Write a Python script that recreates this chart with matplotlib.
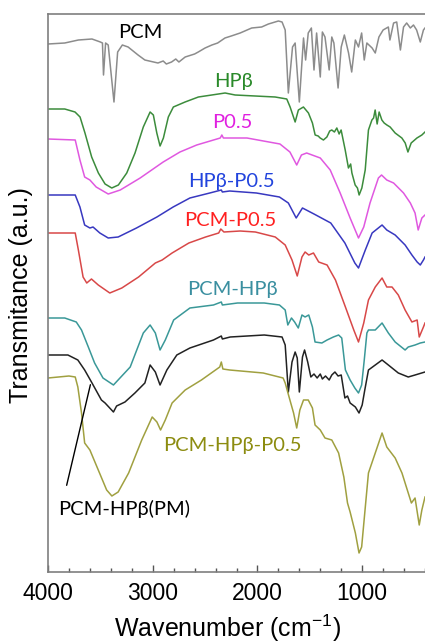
import matplotlib
matplotlib.use("Agg")
import matplotlib.pyplot as plt
from matplotlib.ticker import MultipleLocator, FixedLocator

plt.rcParams['mathtext.fontset'] = 'custom'
plt.rcParams['mathtext.rm'] = 'Liberation Sans'
plt.rcParams['mathtext.it'] = 'Liberation Sans'

# ---------------- data (wavenumber cm-1, transmittance a.u. with offsets) -------------
pcm_wn = [4000, 3840, 3710, 3580, 3500, 3480, 3470, 3450, 3425, 3370, 3335, 3290, 3235, 3140,
          3075, 2950, 2900, 2870, 2820, 2780, 2750, 2690, 2600, 2565, 2500, 2435, 2380, 2310,
          2250, 2165, 2055, 1960, 1895, 1800, 1765, 1735, 1705, 1665, 1640, 1600, 1560, 1540,
          1515, 1485, 1460, 1435, 1400, 1380, 1355, 1315, 1290, 1270, 1230, 1200, 1170, 1130,
          1100, 1065, 1035, 1005, 980, 955, 905, 875, 840, 800, 750, 735, 700, 670, 635, 605,
          575, 540, 510, 480, 445, 415, 400]
pcm_t = [528, 529, 532, 533, 530, 529, 497, 529, 527, 470, 520, 527, 525, 517,
         512, 509, 511, 508, 510, 513, 510, 515, 518, 520, 524, 527, 529, 534,
         536, 539, 544, 545, 548, 551, 550, 542, 479, 525, 529, 470, 534, 512,
         539, 544, 502, 539, 495, 540, 535, 502, 535, 529, 484, 525, 537, 519,
         500, 532, 525, 539, 512, 529, 524, 519, 535, 542, 545, 532, 549, 550, 522, 545,
         549, 544, 547, 542, 530, 542, 544]

hpb_wn = [4000, 3840, 3742, 3694, 3647, 3583, 3519, 3455, 3391, 3328, 3248, 3169, 3090, 3025,
          2994, 2961, 2930, 2898, 2851, 2803, 2691, 2564, 2436, 2309, 2213, 2022, 1831, 1720,
          1688, 1640, 1609, 1561, 1513, 1475, 1449, 1420, 1401, 1370, 1337, 1310, 1290, 1265,
          1242, 1220, 1201, 1162, 1131, 1110, 1098, 1067, 1045, 1029, 1003, 971, 940, 907, 891,
          876, 857, 838, 812, 790, 764, 733, 685, 621, 589, 563, 532, 477, 430, 400]
hpb_t = [463, 463, 460, 455, 439, 415, 399, 388, 384, 387, 399, 419, 445, 460,
         457, 439, 426, 434, 455, 465, 470, 475, 477, 479, 477, 476, 475, 473,
         465, 450, 462, 465, 459, 449, 437, 436, 434, 432, 435, 441, 442, 440,
         444, 438, 442, 422, 404, 408, 399, 387, 384, 377, 384, 402, 442, 452, 454,
         462, 448, 460, 452, 449, 447, 445, 439, 434, 429, 420, 429, 434, 437, 440]

p05_wn = [4000, 3740, 3695, 3650, 3600, 3540, 3425, 3310, 3120, 2900, 2740, 2580, 2355, 2340,
          2325, 2100, 1785, 1690, 1625, 1580, 1530, 1400, 1305, 1210, 1115, 1035, 985, 925,
          845, 815, 765, 700, 605, 540, 495, 465, 430, 400]
p05_t = [433, 432, 412, 395, 392, 385, 378, 382, 394, 410, 420, 427, 434, 437,
         434, 434, 428, 420, 407, 417, 419, 414, 402, 379, 354, 334, 345, 369,
         394, 397, 392, 389, 379, 369, 359, 342, 354, 357]

hp05_wn = [4000, 3740, 3695, 3650, 3600, 3570, 3505, 3425, 3330, 3155, 2960, 2805, 2645, 2455,
           2345, 2335, 2265, 2010, 1790, 1705, 1630, 1570, 1460, 1300, 1165, 1070, 1035, 970,
           905, 810, 765, 685, 590, 525, 475, 445, 415, 400]
hp05_t = [377, 377, 365, 347, 344, 345, 339, 334, 335, 344, 355, 365, 374, 379,
          382, 380, 381, 379, 375, 369, 354, 364, 358, 349, 329, 309, 304, 322,
          339, 347, 342, 337, 327, 317, 310, 307, 312, 315]

pp05_wn = [4000, 3740, 3710, 3665, 3630, 3585, 3520, 3410, 3295, 3135, 2975, 2910, 2815, 2655,
           2495, 2370, 2350, 2320, 2165, 2020, 1830, 1735, 1670, 1620, 1575, 1545, 1510, 1465,
           1415, 1335, 1255, 1160, 1080, 1035, 985, 940, 875, 810, 765, 715, 655, 590, 525,
           475, 455, 415, 400]
pp05_t = [339, 339, 322, 295, 289, 293, 287, 279, 284, 295, 309, 312, 319, 329,
          335, 339, 343, 340, 341, 340, 335, 327, 312, 296, 315, 320, 317, 319,
          310, 307, 292, 265, 242, 230, 249, 272, 285, 294, 285, 285, 277, 262, 250,
          252, 235, 245, 249]

pchp_wn = [4000, 3840, 3730, 3680, 3615, 3555, 3475, 3375, 3215, 3090, 3025, 2975, 2930, 2880,
           2800, 2645, 2420, 2345, 2335, 2190, 1935, 1790, 1735, 1710, 1675, 1645, 1610, 1575,
           1545, 1510, 1475, 1450, 1385, 1335, 1275, 1225, 1195, 1160, 1115, 1070, 1035, 1005,
           980, 955, 940, 875, 810, 750, 685, 590, 560, 495, 445, 400]
pchp_t = [254, 254, 250, 242, 225, 209, 194, 187, 205, 239, 247, 239, 222, 232,
          252, 264, 267, 270, 267, 269, 269, 267, 262, 247, 254, 250, 244, 257,
          255, 257, 245, 230, 229, 232, 235, 237, 234, 202, 192, 184, 179, 187,
          212, 239, 242, 242, 249, 239, 230, 222, 225, 227, 229, 230]

pm_wn = [4000, 3810, 3715, 3650, 3585, 3490, 3455, 3375, 3345, 3265, 3170, 3075, 3025, 2975,
         2930, 2865, 2770, 2645, 2420, 2345, 2335, 2260, 1935, 1765, 1735, 1705, 1670, 1640,
         1620, 1600, 1570, 1550, 1520, 1490, 1460, 1430, 1400, 1380, 1350, 1315, 1290, 1260,
         1230, 1200, 1165, 1140, 1115, 1065, 1030, 1000, 975, 940, 875, 810, 750, 655, 560,
         495, 400]
pm_t = [217, 217, 212, 202, 190, 172, 169, 160, 166, 170, 179, 189, 207, 200,
        187, 202, 217, 224, 232, 236, 233, 235, 237, 235, 227, 180, 210, 220,
        214, 180, 215, 222, 210, 195, 198, 194, 198, 193, 196, 192, 197, 200,
        196, 197, 174, 176, 169, 165, 159, 167, 182, 202, 207, 212, 207, 199, 195,
        197, 200]

tern_wn = [4000, 3800, 3740, 3715, 3680, 3650, 3600, 3520, 3440, 3390, 3330, 3230, 3105, 3005,
           2960, 2925, 2880, 2815, 2690, 2535, 2360, 2345, 2330, 2265, 1945, 1755, 1735, 1690,
           1655, 1625, 1595, 1560, 1515, 1475, 1450, 1400, 1355, 1290, 1225, 1175, 1140, 1115,
           1065, 1030, 1005, 970, 940, 875, 810, 765, 685, 620, 560, 530, 495, 455, 430, 400]
tern_t = [194, 196, 195, 185, 159, 129, 122, 102, 82, 76, 80, 99, 132, 155,
          150, 142, 152, 169, 182, 192, 205, 210, 203, 202, 199, 194, 189, 172,
          159, 144, 162, 172, 172, 164, 147, 142, 134, 132, 119, 95, 69, 60,
          39, 19, 25, 65, 99, 119, 139, 125, 114, 99, 79, 69, 74, 47, 62, 75]

series = [
    ("PCM", pcm_wn, pcm_t, "#8c8c8c", "black", (3121, 540)),
    ("HPβ", hpb_wn, hpb_t, "#3c8c3c", "#2a8a2a", (2233, 491)),
    ("P0.5", p05_wn, p05_t, "#e058e0", "#e020e0", (2242, 449)),
    ("HPβ-P0.5", hp05_wn, hp05_t, "#3838c0", "#2244dd", (2252, 391)),
    ("PCM-P0.5", pp05_wn, pp05_t, "#d84848", "#ff2020", (2261, 352)),
    ("PCM-HPβ", pchp_wn, pchp_t, "#3a9898", "#3a8fa0", (2242, 283)),
    ("PCM-HPβ(PM)", pm_wn, pm_t, "#222222", "black", (3274, 63)),
    ("PCM-HPβ-P0.5", tern_wn, tern_t, "#a0a040", "#8c8c10", (2242, 127)),
]

xticks_major = [4000, 3000, 2000, 1000]

# ---------------- figure -------------
fig = plt.figure(figsize=(4.25, 6.44), dpi=100)
ax = fig.add_axes([48 / 425, 72 / 644, 377 / 425, 558 / 644])

label_font = ['Lato', 'DejaVu Sans']
for name, wn, t, lc, tc, pos in series:
    ax.plot(wn, t, color=lc, lw=1.1)
    ax.text(pos[0], pos[1], name, color=tc, fontsize=14.5, family=label_font,
            ha='center', va='center')

# pointer line for the physical mixture label
ax.annotate("", xy=(3589, 190), xytext=(3828, 84),
            arrowprops=dict(arrowstyle='-', color='black', lw=1.0))

ax.set_xlim(4000, 400)
ax.set_ylim(0, 558)
ax.xaxis.set_major_locator(FixedLocator(xticks_major))
ax.xaxis.set_minor_locator(MultipleLocator(200))
ax.set_yticks([])
ax.tick_params(axis='x', which='major', direction='in', length=5, width=1,
               labelsize=16.5, pad=7, colors='#555555', labelcolor='black')
ax.tick_params(axis='x', which='minor', direction='in', length=3, width=1, colors='#555555')
for lbl in ax.get_xticklabels():
    lbl.set_family('Liberation Sans')

for side in ['left', 'top', 'bottom']:
    ax.spines[side].set_color('#7f7f7f')
    ax.spines[side].set_linewidth(1.2)
ax.spines['right'].set_visible(False)

ax.set_xlabel('Wavenumber (cm$^{-1}$)', fontsize=18, family='Liberation Sans')
ax.xaxis.set_label_coords(0.477, -0.072)
ax.set_ylabel('Transmitance (a.u.)', fontsize=18, family='Liberation Sans')
ax.yaxis.set_label_coords(-0.04, 0.496)

fig.savefig('out.png', dpi=100)
